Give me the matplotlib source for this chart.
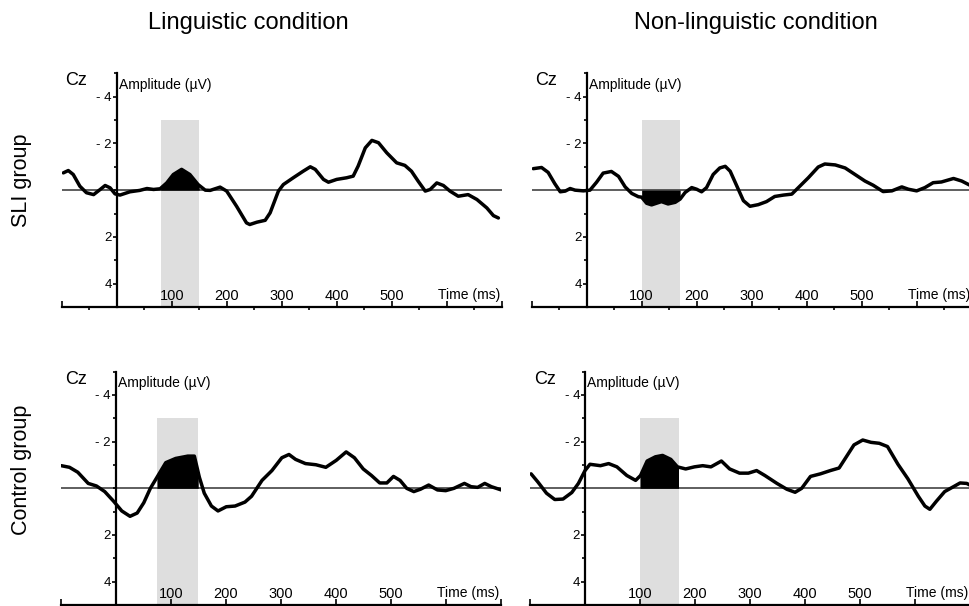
import numpy as np
import matplotlib

matplotlib.use('Agg')
import matplotlib.pyplot as plt
from matplotlib.ticker import MultipleLocator

plt.rcParams['font.family'] = ['Liberation Sans', 'DejaVu Sans']

# ERP at Cz, amplitude in microvolts (negative plotted upward)
sli_ling_t = [-97, -88, -79, -67, -55, -42, -30, -21, -12, -3, 6, 24, 42, 55, 67, 79, 91, 103, 118, 133,
              148, 161, 170, 188, 200, 218, 236, 242, 255, 270, 279, 294, 303, 321, 339, 352, 361, 376, 385,
              400, 418, 430, 439, 452, 464, 476, 491, 509, 524, 536, 548, 561, 570, 582, 594, 606, 621, 639,
              655, 673, 685, 694]
sli_ling_v = [-0.74, -0.84, -0.67, -0.17, 0.11, 0.19, -0.03, -0.2, -0.1, 0.16, 0.21, 0.07, 0.01, -0.07, -0.03,
              -0.06, -0.31, -0.67, -0.89, -0.67, -0.24, 0.0, 0.01, -0.13, 0.04, 0.69, 1.4, 1.47, 1.37, 1.29,
              0.97, 0.04, -0.24, -0.53, -0.81, -1.0, -0.89, -0.46, -0.34, -0.46, -0.53, -0.6, -1.03, -1.81,
              -2.13, -2.03, -1.6, -1.17, -1.06, -0.81, -0.39, 0.04, -0.03, -0.31, -0.2, 0.04, 0.26, 0.19, 0.4,
              0.76, 1.09, 1.19]

sli_nonling_t = [-97, -82, -70, -58, -48, -39, -30, -21, -6, 6, 18, 30, 45, 58, 70, 82, 94, 100, 109, 118,
                 136, 148, 161, 170, 179, 191, 200, 209, 218, 230, 242, 252, 261, 273, 285, 297, 312, 327,
                 342, 358, 373, 385, 403, 421, 433, 452, 470, 488, 506, 521, 539, 555, 573, 585, 600, 615,
                 630, 645, 667, 682, 697]
sli_nonling_v = [-0.92, -0.97, -0.76, -0.28, 0.07, 0.04, -0.07, 0.0, 0.03, 0.0, -0.34, -0.73, -0.8, -0.59,
                 -0.14, 0.14, 0.28, 0.3, 0.56, 0.63, 0.49, 0.59, 0.52, 0.38, 0.1, -0.11, -0.04, 0.07, -0.11,
                 -0.67, -0.95, -1.02, -0.81, -0.18, 0.45, 0.69, 0.62, 0.49, 0.27, 0.21, 0.17, -0.11, -0.53,
                 -0.99, -1.12, -1.08, -0.95, -0.67, -0.39, -0.21, 0.06, 0.03, -0.14, -0.04, 0.03, -0.11,
                 -0.32, -0.35, -0.5, -0.39, -0.21]

ctl_ling_t = [-99, -84, -69, -50, -35, -20, -4, 11, 26, 39, 51, 63, 77, 91, 109, 131, 143, 152, 161, 174,
              186, 201, 217, 235, 247, 266, 284, 302, 315, 327, 345, 364, 382, 401, 419, 434, 450, 465, 480,
              493, 505, 517, 529, 542, 554, 569, 585, 600, 615, 634, 646, 658, 671, 683, 701]
ctl_ling_v = [-0.97, -0.9, -0.69, -0.21, -0.1, 0.14, 0.55, 0.97, 1.2, 1.06, 0.62, 0.0, -0.55, -1.1, -1.28,
              -1.38, -1.38, -0.48, 0.21, 0.76, 0.97, 0.79, 0.76, 0.59, 0.34, -0.34, -0.76, -1.31, -1.45,
              -1.24, -1.06, -1.01, -0.9, -1.2, -1.56, -1.31, -0.83, -0.55, -0.23, -0.23, -0.51, -0.34, 0.0,
              0.14, 0.04, -0.14, 0.07, 0.1, 0.0, -0.21, -0.07, -0.04, -0.21, -0.07, 0.07]

ctl_nonling_t = [-98, -86, -70, -55, -40, -24, -12, 0, 9, 28, 43, 58, 76, 92, 101, 113, 128, 141, 156, 168,
                 183, 199, 214, 229, 248, 263, 281, 297, 312, 327, 349, 367, 382, 394, 410, 428, 446, 462,
                 474, 489, 505, 520, 535, 550, 569, 587, 606, 618, 627, 639, 654, 670, 682, 694, 703]
ctl_nonling_v = [-0.62, -0.28, 0.21, 0.48, 0.46, 0.18, -0.21, -0.76, -1.03, -0.97, -1.06, -0.92, -0.55,
                 -0.34, -0.55, -1.17, -1.35, -1.41, -1.24, -0.92, -0.83, -0.92, -0.97, -0.92, -1.17, -0.83,
                 -0.65, -0.65, -0.76, -0.55, -0.21, 0.04, 0.17, 0.0, -0.51, -0.62, -0.76, -0.87, -1.31,
                 -1.86, -2.07, -1.97, -1.93, -1.79, -1.03, -0.41, 0.34, 0.76, 0.9, 0.55, 0.14, -0.07, -0.23,
                 -0.21, -0.1]

windows = [(80, 150), (100, 170), (75, 150), (100, 170)]
col_titles = ['Linguistic condition', 'Non-linguistic condition']
row_titles = ['SLI group', 'Control group']

panels = [(sli_ling_t, sli_ling_v), (sli_nonling_t, sli_nonling_v),
          (ctl_ling_t, ctl_ling_v), (ctl_nonling_t, ctl_nonling_v)]
# [left, bottom, width, height] in figure fraction
rects = [[0.0636, 0.4934, 0.4536, 0.3856], [0.5481, 0.4934, 0.4536, 0.3856],
         [0.0626, 0.0017, 0.4536, 0.385], [0.5464, 0.0017, 0.4536, 0.385]]

fig = plt.figure(figsize=(9.7, 6.06), dpi=100)

for (t, v), rect, (w0, w1) in zip(panels, rects, windows):
    ax = fig.add_axes(rect)
    ax.set_xlim(-100, 700)
    ax.set_ylim(5, -5)
    t = np.asarray(t, dtype=float)
    v = np.asarray(v, dtype=float)

    ax.fill_between([w0, w1], -3.0, 5, color='#dedede', lw=0, zorder=0)
    ax.axhline(0, color='#333333', lw=1.1, zorder=1)
    tf = np.linspace(w0, w1, 80)
    ax.fill_between(tf, np.interp(tf, t, v), 0, color='black', lw=0, zorder=2)
    ax.plot(t, v, color='black', lw=2.5, solid_joinstyle='round', solid_capstyle='round', zorder=3)

    for s in ['top', 'right']:
        ax.spines[s].set_visible(False)
    ax.spines['left'].set_position(('data', 0))
    ax.spines['left'].set_linewidth(1.6)
    ax.spines['bottom'].set_linewidth(1.6)

    ax.set_yticks([-4, -2, 2, 4])
    ax.set_yticklabels(['- 4', '- 2', '2', '4'])
    ax.yaxis.set_minor_locator(MultipleLocator(1))
    ax.tick_params(axis='y', which='major', direction='out', length=3, width=1.2, pad=0.5, labelsize=9.5)
    ax.tick_params(axis='y', which='minor', direction='out', length=2, width=1.2)

    ax.set_xticks(range(-100, 701, 100))
    ax.set_xticklabels(['', '', '100', '200', '300', '400', '500', '', ''])
    ax.xaxis.set_minor_locator(MultipleLocator(50))
    ax.tick_params(axis='x', which='major', direction='in', length=4, width=1.2, pad=-13, labelsize=10.5)
    ax.tick_params(axis='x', which='minor', direction='out', length=2, width=1.2)

    ax.text(-73, -4.68, 'Cz', fontsize=13, ha='center', va='center')
    ax.text(4, -4.5, 'Amplitude (\u00b5V)', fontsize=10, ha='left', va='center')
    ax.text(697, 4.5, 'Time (ms)', fontsize=10, ha='right', va='center')
    ax.patch.set_alpha(0)

fig.text(0.256, 0.962, col_titles[0], fontsize=17, ha='center', va='center')
fig.text(0.779, 0.962, col_titles[1], fontsize=17, ha='center', va='center')
fig.text(0.022, 1 - 180 / 606, row_titles[0], fontsize=15.5, rotation=90, ha='center', va='center')
fig.text(0.022, 1 - 470 / 606, row_titles[1], fontsize=15.5, rotation=90, ha='center', va='center')

fig.savefig('out.png', dpi=100)
